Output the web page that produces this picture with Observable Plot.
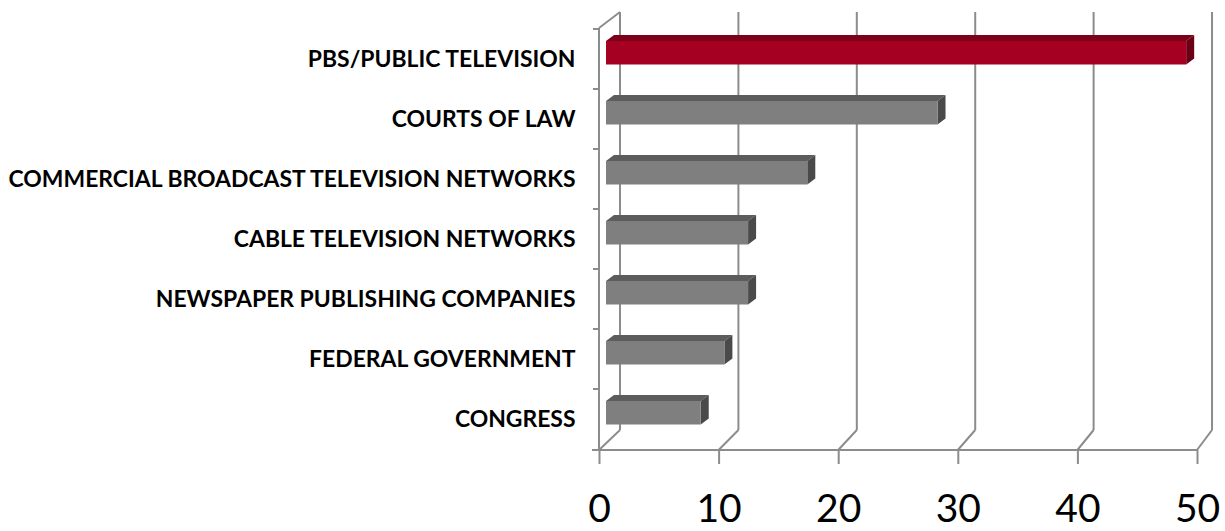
<!DOCTYPE html>
<html>
<head>
<meta charset="utf-8">
<script src="https://cdn.jsdelivr.net/npm/d3@7"></script>
<script src="https://cdn.jsdelivr.net/npm/@observablehq/plot@0.6"></script>
<style>
  html, body { margin: 0; padding: 0; background: #ffffff; }
</style>
</head>
<body>
<div id="chart"></div>
<script>
// ---- data ----
const categories = [
  "PBS/PUBLIC TELEVISION",
  "COURTS OF LAW",
  "COMMERCIAL BROADCAST TELEVISION NETWORKS",
  "CABLE TELEVISION NETWORKS",
  "NEWSPAPER PUBLISHING COMPANIES",
  "FEDERAL GOVERNMENT",
  "CONGRESS"
];
const values = [49, 28, 17, 12, 12, 10, 8];
const xTicks = [0, 10, 20, 30, 40, 50];
const highlighted = "PBS/PUBLIC TELEVISION";

const rows = categories.map((c, i) => ({category: c, value: values[i]}));

// ---- styles ----
const GRID = "#8c8c8c";
const RED = {front: "#a50021", top: "#7d0019", side: "#690014"};
const GREY = {front: "#7f7f7f", top: "#5c5c5c", side: "#4a4a4a"};
const FONT = "Lato, 'Open Sans', sans-serif";

// 3D frame: back wall gridlines, floor diagonals, left axis, category ticks
function frame3d(index, scales, channels, dims) {
  const sx = scales.x, sy = scales.y;
  const x0 = sx(0);
  const bottom = dims.height - dims.marginBottom;
  const top = dims.marginTop;
  const xb = v => x0 + 21 + (sx(v) - x0) * 0.99;
  const backTop = top - 16, backBottom = bottom - 20;
  const g = d3.create("svg:g")
    .attr("fill", "none")
    .attr("stroke", GRID)
    .attr("stroke-width", 2);
  const line = (a, b, c, d) => g.append("line")
    .attr("x1", a).attr("y1", b).attr("x2", c).attr("y2", d);
  for (const v of xTicks) {
    line(xb(v), backTop, xb(v), backBottom);
    line(xb(v), backBottom, sx(v), bottom);
  }
  // front vertical axis and its top edge
  line(x0, top, x0, bottom);
  line(x0, top, xb(0), backTop);
  // front baseline
  line(x0 - 7, bottom, sx(xTicks[xTicks.length - 1]), bottom);
  // category boundary ticks
  for (const c of categories) {
    const y = sy(c);
    line(x0 - 6, y, x0, y);
  }
  return g.node();
}

// 3D bars drawn from the data through the scales
function bars3d(index, scales, channels, dims) {
  const sx = scales.x, sy = scales.y;
  const x0 = sx(0);
  const g = d3.create("svg:g").attr("stroke", "none");
  const ddx = 8, ddy = 6;
  rows.forEach(d => {
    const col = d.category === highlighted ? RED : GREY;
    const y0 = sy(d.category);
    const ft = y0 + 12, fb = y0 + 35.5;
    const xl = x0 + 7;
    const xr = x0 + 7 + (sx(d.value) - x0) * 0.99;
    g.append("path")
      .attr("fill", col.top)
      .attr("d", `M${xl},${ft}L${xl + ddx},${ft - ddy}L${xr + ddx},${ft - ddy}L${xr},${ft}Z`);
    g.append("path")
      .attr("fill", col.side)
      .attr("d", `M${xr},${ft}L${xr + ddx},${ft - ddy}L${xr + ddx},${fb - ddy}L${xr},${fb}Z`);
    g.append("rect")
      .attr("fill", col.front)
      .attr("x", xl).attr("y", ft)
      .attr("width", xr - xl).attr("height", fb - ft);
  });
  return g.node();
}

const chart = Plot.plot({
  width: 1225,
  height: 531,
  marginLeft: 599,
  marginRight: 28,
  marginTop: 28,
  marginBottom: 81,
  style: {background: "#ffffff", fontFamily: FONT, color: "#000000", overflow: "visible"},
  x: {type: "linear", domain: [0, 50]},
  y: {type: "band", domain: categories, padding: 0},
  marks: [
    frame3d,
    bars3d,
    Plot.axisX({
      ticks: xTicks,
      tickSize: 14,
      tickPadding: 30,
      fontSize: 39,
      fontFamily: FONT,
      stroke: GRID,
      strokeWidth: 2,
      strokeOpacity: 1,
      fill: "#000000",
      label: null
    }),
    Plot.axisY({
      tickSize: 0,
      tickPadding: 24,
      fontSize: 23,
      fontWeight: "bold",
      fontFamily: FONT,
      fill: "#000000",
      label: null
    })
  ]
});

document.getElementById("chart").append(chart);

// fit the category labels to the reference's label width
(function fitLabels() {
  const texts = Array.from(chart.querySelectorAll('g[aria-label="y-axis tick label"] text'));
  if (!texts.length) return;
  let maxW = 0;
  texts.forEach(t => { maxW = Math.max(maxW, t.getComputedTextLength()); });
  if (maxW > 0) {
    const target = 567;
    const size = 23 * target / maxW;
    const grp = texts[0].parentNode;
    grp.setAttribute("font-size", size.toFixed(2));
    texts.forEach(t => t.removeAttribute("font-size"));
  }
})();
</script>
</body>
</html>
